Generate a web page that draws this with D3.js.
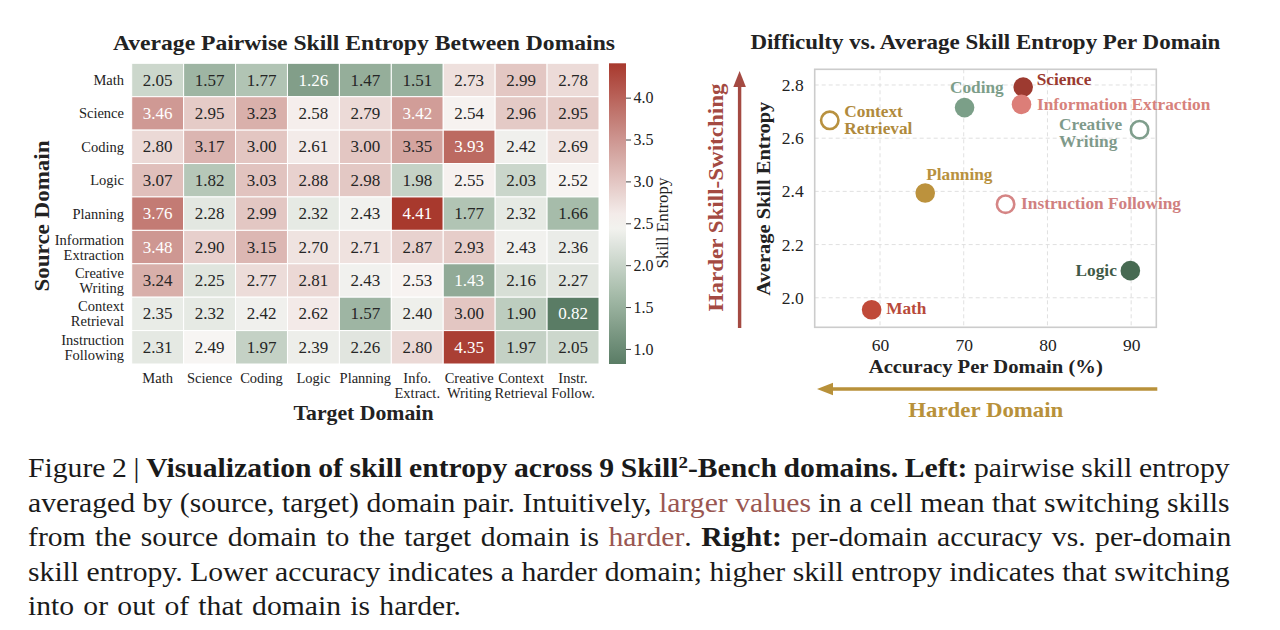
<!DOCTYPE html>
<html>
<head>
<meta charset="utf-8">
<script src="https://cdn.jsdelivr.net/npm/d3@7"></script>
<style>
  html, body { margin: 0; padding: 0; background: #ffffff; }
  svg { display: block; }
  text { font-family: "Liberation Serif", "Times New Roman", serif; }
</style>
</head>
<body>
<svg id="chart" width="1280" height="630"></svg>
<script>
// ---------------- DATA ----------------
const sourceDomains = [["Math"], ["Science"], ["Coding"], ["Logic"], ["Planning"],
  ["Information", "Extraction"], ["Creative", "Writing"], ["Context", "Retrieval"], ["Instruction", "Following"]];
const targetDomains = [["Math"], ["Science"], ["Coding"], ["Logic"], ["Planning"],
  ["Info.", "Extract."], ["Creative", "Writing"], ["Context", "Retrieval"], ["Instr.", "Follow."]];

const entropyMath        = [2.05, 1.57, 1.77, 1.26, 1.47, 1.51, 2.73, 2.99, 2.78];
const entropyScience     = [3.46, 2.95, 3.23, 2.58, 2.79, 3.42, 2.54, 2.96, 2.95];
const entropyCoding      = [2.80, 3.17, 3.00, 2.61, 3.00, 3.35, 3.93, 2.42, 2.69];
const entropyLogic       = [3.07, 1.82, 3.03, 2.88, 2.98, 1.98, 2.55, 2.03, 2.52];
const entropyPlanning    = [3.76, 2.28, 2.99, 2.32, 2.43, 4.41, 1.77, 2.32, 1.66];
const entropyInfoExtract = [3.48, 2.90, 3.15, 2.70, 2.71, 2.87, 2.93, 2.43, 2.36];
const entropyCreative    = [3.24, 2.25, 2.77, 2.81, 2.43, 2.53, 1.43, 2.16, 2.27];
const entropyContext     = [2.35, 2.32, 2.42, 2.62, 1.57, 2.40, 3.00, 1.90, 0.82];
const entropyInstruction = [2.31, 2.49, 1.97, 2.39, 2.26, 2.80, 4.35, 1.97, 2.05];
const entropyRows = [entropyMath, entropyScience, entropyCoding, entropyLogic, entropyPlanning,
  entropyInfoExtract, entropyCreative, entropyContext, entropyInstruction];

const colorbarTicks = [1.0, 1.5, 2.0, 2.5, 3.0, 3.5, 4.0];

const scatterDomains = ["Math", "Science", "Coding", "Logic", "Planning",
  "Information Extraction", "Creative Writing", "Context Retrieval", "Instruction Following"];
const scatterLabels = [["Math"], ["Science"], ["Coding"], ["Logic"], ["Planning"],
  ["Information Extraction"], ["Creative", "Writing"], ["Context", "Retrieval"], ["Instruction Following"]];
const accuracyPerDomain = [59.0, 77.1, 70.1, 89.9, 65.4, 76.9, 91.0, 54.0, 75.0];
const avgSkillEntropy   = [1.955, 2.792, 2.715, 2.102, 2.394, 2.727, 2.632, 2.667, 2.352];
const filledMarker      = [true, true, true, true, true, true, false, false, false];
const xTicks = [60, 70, 80, 90];
const yTicks = [2.0, 2.2, 2.4, 2.6, 2.8];

const captionLines = [
  [["Figure 2 | ", "n"], ["Visualization of skill entropy across 9 Skill", "b"], ["2", "bs"], ["-Bench domains. Left:", "b"], [" pairwise skill entropy", "n"]],
  [["averaged by (source, target) domain pair. Intuitively, ", "n"], ["larger values", "c"], [" in a cell mean that switching skills", "n"]],
  [["from the source domain to the target domain is ", "n"], ["harder", "c"], [". ", "n"], ["Right:", "b"], [" per-domain accuracy vs. per-domain", "n"]],
  [["skill entropy. Lower accuracy indicates a harder domain; higher skill entropy indicates that switching", "n"]],
  [["into or out of that domain is harder.", "n"]]
];

// ---------------- STYLES / LAYOUT ----------------
const markerColors = ["#c04a39", "#9d3a30", "#7b9f88", "#476a52", "#bc923d",
  "#dc7e78", "#7f9e8c", "#b8913f", "#d58585"];
const labelColors  = ["#b84a3a", "#9a3a30", "#7d9e8a", "#3f5a48", "#b8913e",
  "#d7827c", "#7f9a8b", "#b08a3c", "#d08080"];
// label placement: [dx, dy, anchor]
const labelLayout = [
  [14.5, -1, "start"], [13.5, -8, "start"], [12.3, -20, "middle"], [-13.5, 0, "end"], [1, -18, "start"],
  [15.5, 0, "start"], [-80.5, -5, "start"], [14.5, -9, "start"], [15.5, -1, "start"]
];

const svg = d3.select("#chart");
const ink = "#222222";

function boldText(g, opts) {
  const t = g.append("text").attr("text-anchor", "middle")
    .attr("font-size", opts.size).attr("font-weight", "bold").attr("fill", opts.color || ink)
    .attr("textLength", opts.len).attr("lengthAdjust", "spacingAndGlyphs")
    .text(opts.text);
  if (opts.rotate) t.attr("transform", `translate(${opts.x},${opts.y}) rotate(-90)`);
  else t.attr("x", opts.x).attr("y", opts.y);
  return t;
}

// ---------------- HEATMAP ----------------
const hm = { left: 131.7, right: 599, top: 63.3, bottom: 364 };
const xBand = d3.scaleBand().domain(d3.range(9)).range([hm.left, hm.right]);
const yBand = d3.scaleBand().domain(d3.range(9)).range([hm.top, hm.bottom]);
const vmin = d3.min(entropyRows.flat()), vmax = d3.max(entropyRows.flat());
const cmap = d3.scaleDiverging()
  .domain([vmin, 2.5, vmax])
  .interpolator(d3.piecewise(d3.interpolateRgb, ["#5a7c65", "#a6bcaa", "#f8f6f4", "#cf9a95", "#a8392d"]));

const cells = [];
entropyRows.forEach((row, i) => row.forEach((v, j) => cells.push({ i, j, v })));

const gH = svg.append("g");
gH.selectAll("rect.cell").data(cells).join("rect")
  .attr("class", "cell")
  .attr("x", d => xBand(d.j)).attr("y", d => yBand(d.i))
  .attr("width", xBand.bandwidth()).attr("height", yBand.bandwidth())
  .attr("fill", d => cmap(d.v))
  .attr("stroke", "#ffffff").attr("stroke-width", 1);

gH.selectAll("text.val").data(cells).join("text")
  .attr("class", "val")
  .attr("x", d => xBand(d.j) + xBand.bandwidth() / 2)
  .attr("y", d => yBand(d.i) + yBand.bandwidth() / 2)
  .attr("text-anchor", "middle").attr("dominant-baseline", "central")
  .attr("font-size", 17)
  .attr("fill", d => (d.v >= 3.4 || d.v <= 1.45) ? "#ffffff" : "#262626")
  .text(d => d.v.toFixed(2));

// row labels
sourceDomains.forEach((lines, i) => {
  const cy = yBand(i) + yBand.bandwidth() / 2;
  const t = gH.append("text").attr("text-anchor", "end").attr("font-size", 14.5).attr("fill", ink);
  lines.forEach((ln, k) => {
    t.append("tspan").attr("x", 124).attr("y", cy + (k - (lines.length - 1) / 2) * 15)
      .attr("dominant-baseline", "central").text(ln);
  });
});
// column labels
targetDomains.forEach((lines, j) => {
  const cx = xBand(j) + xBand.bandwidth() / 2;
  const t = gH.append("text").attr("text-anchor", "middle").attr("font-size", 14.5).attr("fill", ink);
  lines.forEach((ln, k) => {
    t.append("tspan").attr("x", cx).attr("y", 383 + k * 15).text(ln);
  });
});

boldText(gH, { x: 364, y: 50, size: 22, len: 502, text: "Average Pairwise Skill Entropy Between Domains" });
boldText(gH, { x: 363.5, y: 420, size: 22, len: 140, text: "Target Domain" });
boldText(gH, { x: 48.5, y: 216, size: 22, len: 151, rotate: true, text: "Source Domain" });

// colorbar
const cb = { x: 609, w: 17 };
const cbScale = d3.scaleLinear().domain([vmin, vmax]).range([hm.bottom, hm.top]);
const defs = svg.append("defs");
const grad = defs.append("linearGradient").attr("id", "cbgrad")
  .attr("x1", 0).attr("y1", 1).attr("x2", 0).attr("y2", 0);
d3.range(0, 1.0001, 0.05).forEach(t => {
  grad.append("stop").attr("offset", t).attr("stop-color", cmap(vmin + t * (vmax - vmin)));
});
gH.append("rect").attr("x", cb.x).attr("y", hm.top).attr("width", cb.w).attr("height", hm.bottom - hm.top)
  .attr("fill", "url(#cbgrad)");
const cbAxis = d3.axisRight(cbScale).tickValues(colorbarTicks).tickFormat(d3.format(".1f")).tickSize(5).tickPadding(2.5);
const cbG = gH.append("g").attr("transform", `translate(${cb.x + cb.w},0)`).call(cbAxis);
cbG.select(".domain").remove();
cbG.selectAll(".tick line").attr("stroke", "#444").attr("stroke-width", 1);
cbG.selectAll(".tick text").attr("font-size", 16).attr("fill", ink)
  .attr("font-family", "Liberation Serif, serif");
gH.append("text").attr("transform", "translate(668,223) rotate(-90)").attr("text-anchor", "middle")
  .attr("font-size", 17).attr("fill", ink).text("Skill Entropy");

// ---------------- SCATTER ----------------
const sp = { left: 814.7, right: 1156.3, top: 69.3, bottom: 327.3 };
const xS = d3.scaleLinear().domain([52.2, 93.0]).range([sp.left, sp.right]);
const yS = d3.scaleLinear().domain([1.889, 2.859]).range([sp.bottom, sp.top]);
const gS = svg.append("g");

// grid
gS.selectAll("line.gx").data(xTicks).join("line")
  .attr("x1", d => xS(d)).attr("x2", d => xS(d)).attr("y1", sp.top).attr("y2", sp.bottom)
  .attr("stroke", "#dddddd").attr("stroke-width", 0.9).attr("stroke-dasharray", "4,3");
gS.selectAll("line.gy").data(yTicks).join("line")
  .attr("y1", d => yS(d)).attr("y2", d => yS(d)).attr("x1", sp.left).attr("x2", sp.right)
  .attr("stroke", "#dddddd").attr("stroke-width", 0.9).attr("stroke-dasharray", "4,3");
gS.append("rect").attr("x", sp.left).attr("y", sp.top)
  .attr("width", sp.right - sp.left).attr("height", sp.bottom - sp.top)
  .attr("fill", "none").attr("stroke", "#cccccc").attr("stroke-width", 1.6);

const xAx = gS.append("g").attr("transform", `translate(0,${sp.bottom})`)
  .call(d3.axisBottom(xS).tickValues(xTicks).tickSize(0).tickPadding(11));
const yAx = gS.append("g").attr("transform", `translate(${sp.left},0)`)
  .call(d3.axisLeft(yS).tickValues(yTicks).tickFormat(d3.format(".1f")).tickSize(0).tickPadding(11));
[xAx, yAx].forEach(a => {
  a.select(".domain").remove();
  a.selectAll(".tick text").attr("font-size", 17.5).attr("fill", ink).attr("font-family", "Liberation Serif, serif");
});

// markers
const pts = scatterDomains.map((d, i) => ({ i, d, x: accuracyPerDomain[i], y: avgSkillEntropy[i] }));
gS.selectAll("circle.pt").data(pts).join("circle")
  .attr("class", "pt")
  .attr("cx", d => xS(d.x)).attr("cy", d => yS(d.y))
  .attr("r", d => filledMarker[d.i] ? 9.8 : 8.7)
  .attr("fill", d => filledMarker[d.i] ? markerColors[d.i] : "#ffffff")
  .attr("stroke", d => markerColors[d.i])
  .attr("stroke-width", d => filledMarker[d.i] ? 0 : 2.6);

// labels
pts.forEach(p => {
  const [dx, dy, anchor] = labelLayout[p.i];
  const lines = scatterLabels[p.i];
  const t = gS.append("text").attr("text-anchor", anchor).attr("font-size", 17.3)
    .attr("font-weight", "bold").attr("fill", labelColors[p.i]);
  lines.forEach((ln, k) => {
    t.append("tspan").attr("x", xS(p.x) + dx).attr("y", yS(p.y) + dy + k * 17)
      .attr("dominant-baseline", "central").text(ln);
  });
});

boldText(gS, { x: 985.4, y: 49, size: 21, len: 470, text: "Difficulty vs. Average Skill Entropy Per Domain" });
boldText(gS, { x: 985.8, y: 373, size: 19.5, len: 234, text: "Accuracy Per Domain (%)" });
boldText(gS, { x: 770, y: 198.7, size: 19.5, len: 194, rotate: true, text: "Average Skill Entropy" });

// arrows
const redArrow = "#a44a42", goldArrow = "#b8913a";
gS.append("line").attr("x1", 739.6).attr("x2", 739.6).attr("y1", 328).attr("y2", 84)
  .attr("stroke", redArrow).attr("stroke-width", 3.4);
gS.append("path").attr("d", "M739.6,71 L733.3,87 L745.9,87 Z").attr("fill", redArrow);
boldText(gS, { x: 722.5, y: 197.5, size: 21, len: 228, rotate: true, color: redArrow, text: "Harder Skill-Switching" });

gS.append("line").attr("x1", 1157.3).attr("x2", 830).attr("y1", 389).attr("y2", 389)
  .attr("stroke", goldArrow).attr("stroke-width", 3.4);
gS.append("path").attr("d", "M817,389 L833,382.7 L833,395.3 Z").attr("fill", goldArrow);
boldText(gS, { x: 985.8, y: 416.5, size: 21, len: 155, color: goldArrow, text: "Harder Domain" });

// ---------------- CAPTION ----------------
const capG = svg.append("g");
const capX = 28, capRight = 1230, capLastRight = 461, capY0 = 477, capDy = 34.6, kx = 1.12;
const capTexts = captionLines.map((segs, li) => {
  const t = capG.append("text").attr("x", 0).attr("y", 0)
    .attr("font-size", 26.5).attr("fill", "#1a1a1a");
  segs.forEach(([s, style]) => {
    const ts = t.append("tspan").text(s);
    if (style === "b" || style === "bs") ts.attr("font-weight", "bold");
    if (style === "bs") ts.attr("font-size", 17).attr("baseline-shift", "55%");
    if (style === "c") ts.attr("fill", "#9a5752");
  });
  return t;
});
const lastIdx = captionLines.length - 1;
capTexts.forEach((t, li) => {
  const natural = t.node().getComputedTextLength();
  const full = captionLines[li].map(s => s[0]).join("");
  const spaces = (full.match(/ /g) || []).length;
  const right = li < lastIdx ? capRight : capLastRight;
  const ws = ((right - capX) / kx - natural) / Math.max(spaces, 1);
  t.attr("word-spacing", ws);
  t.attr("transform", `translate(${capX},${capY0 + li * capDy}) scale(${kx},1)`);
});
</script>
</body>
</html>
